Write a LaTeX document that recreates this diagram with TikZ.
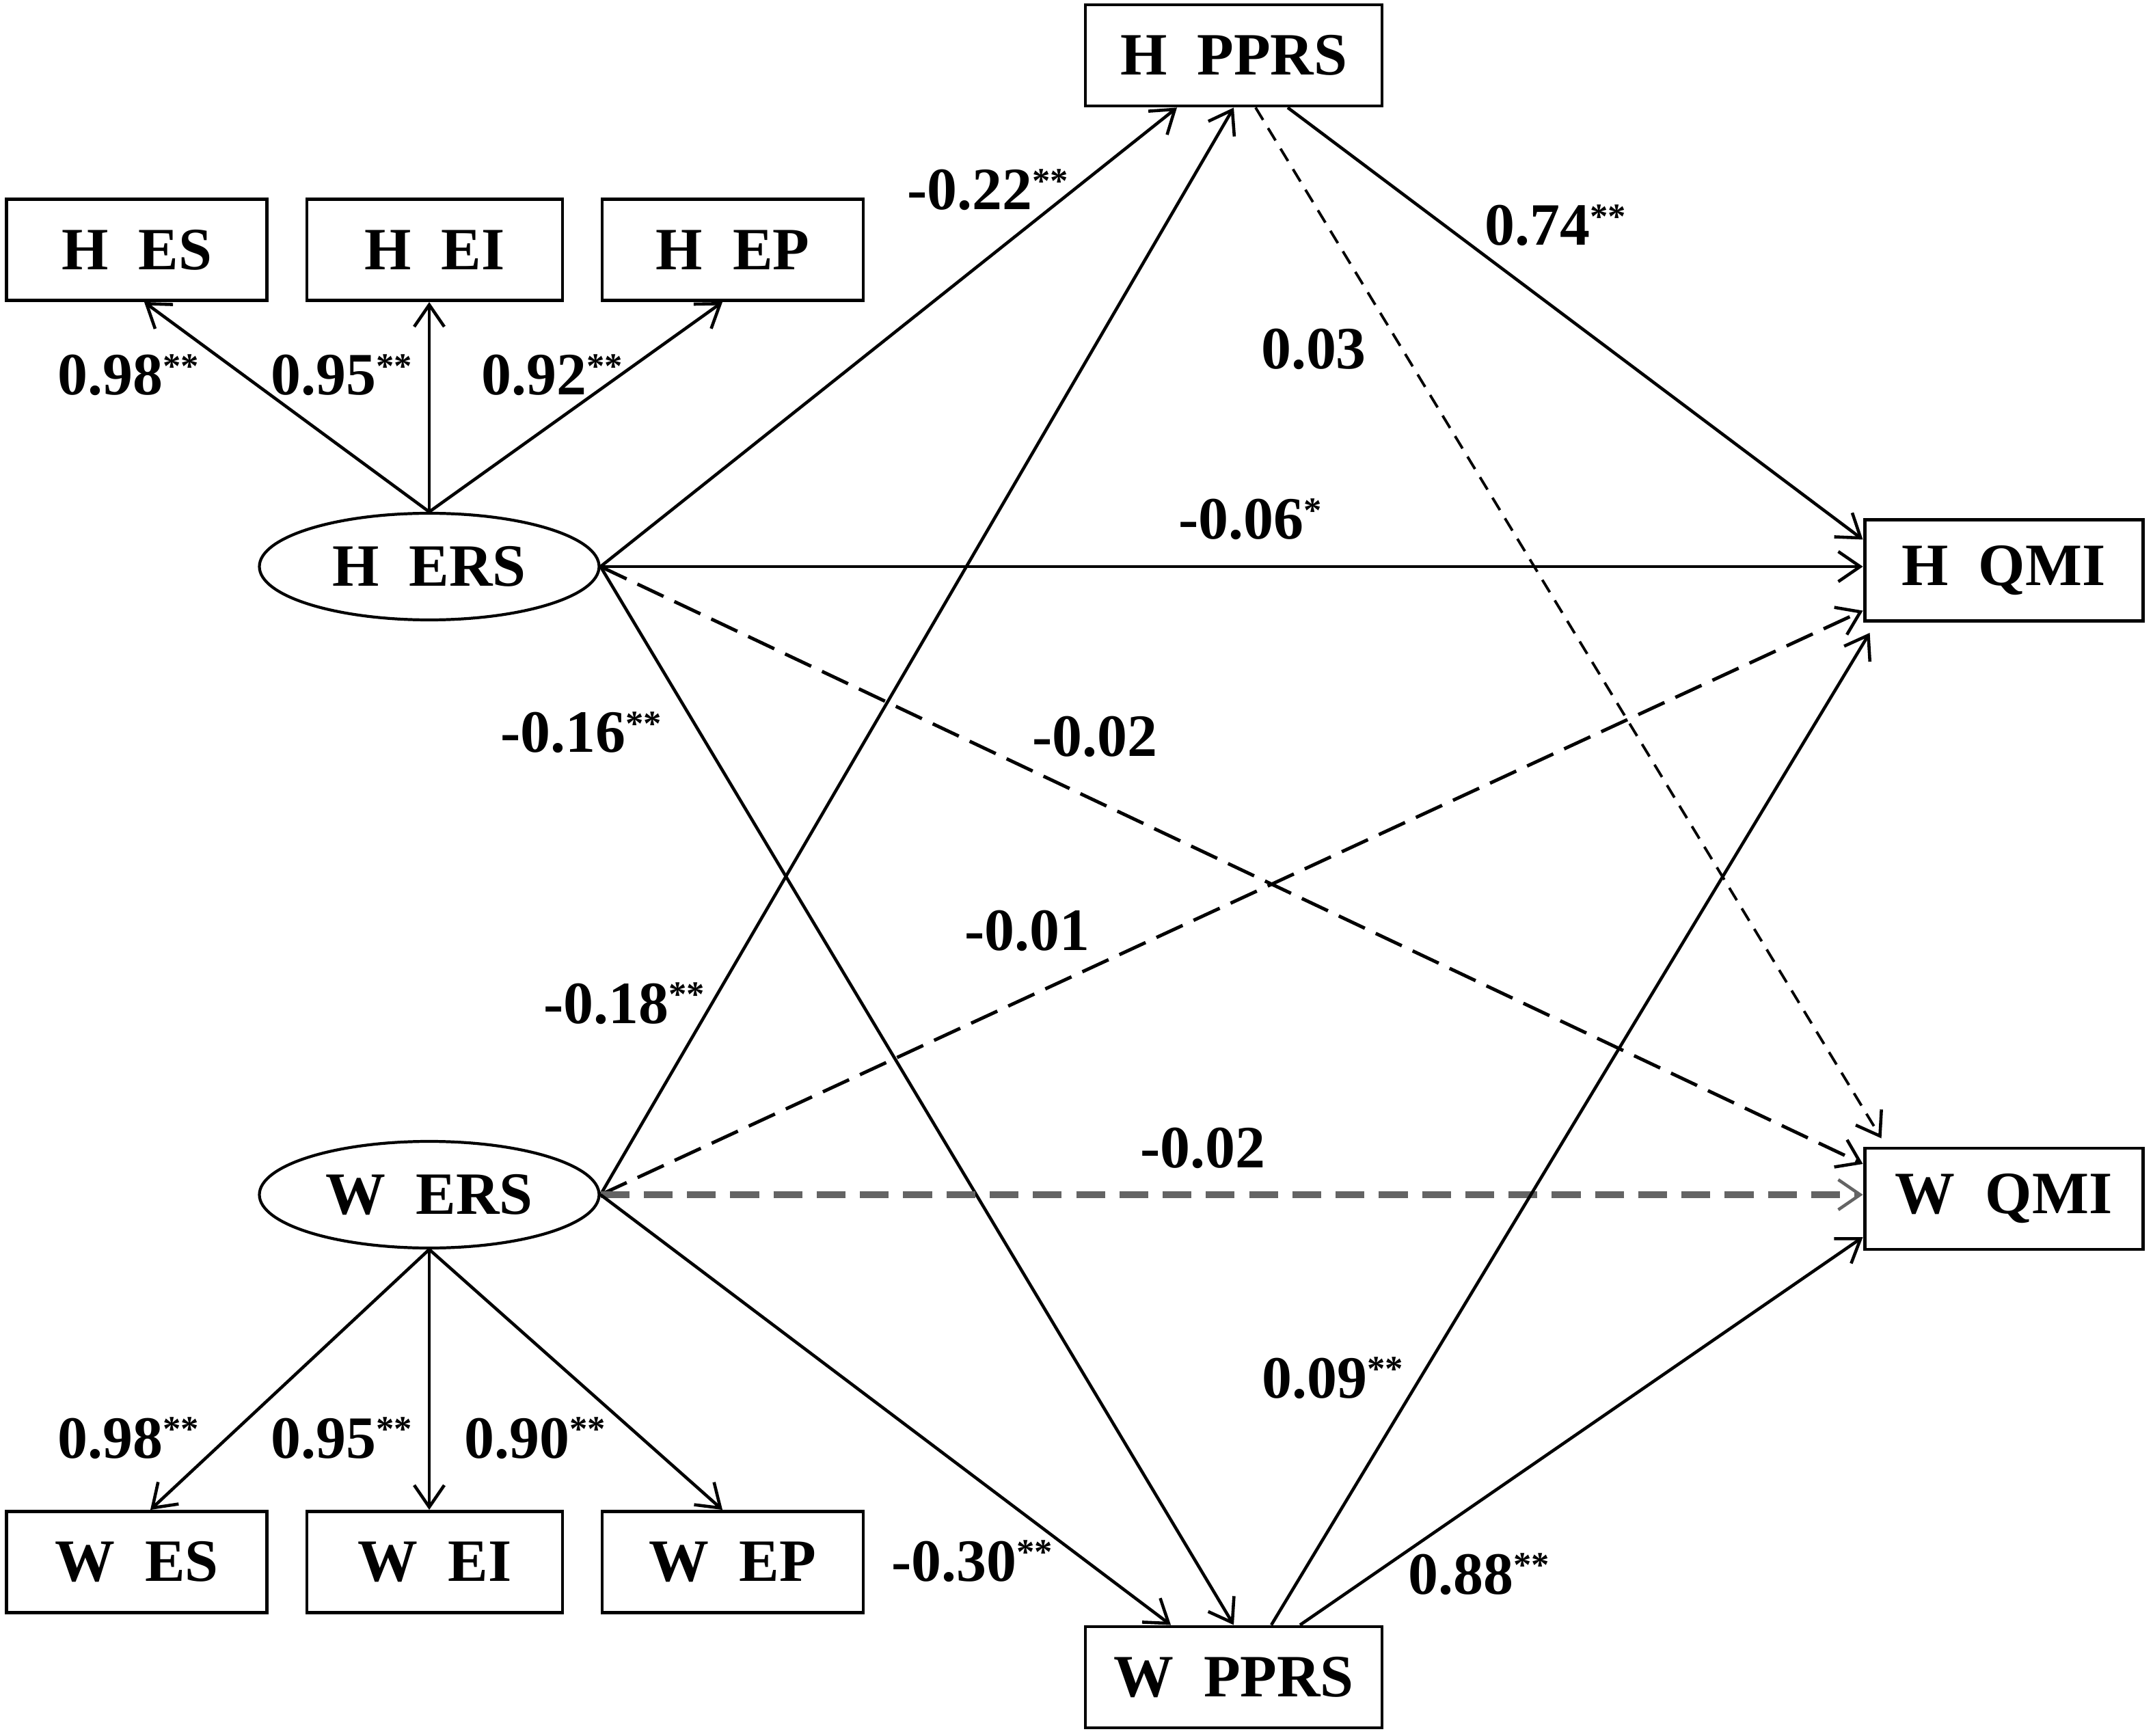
\documentclass[tikz,border=0pt]{standalone}
\usepackage{fontspec}
\setmainfont{Liberation Serif}
\usetikzlibrary{shapes.geometric, arrows.meta, positioning, calc}

\definecolor{dashgray}{RGB}{100, 100, 100}
\newcommand{\twostar}{\raisebox{0.28em}{\fontsize{15}{15}\selectfont **}}
\newcommand{\onestar}{\raisebox{0.28em}{\fontsize{15}{15}\selectfont *}}

\begin{document}
\begin{tikzpicture}[
  font=\fontsize{25}{30}\selectfont\bfseries,
  box/.style={draw, line width=1.4pt, minimum height=1.48cm, inner sep=0pt},
  latent/.style={draw, ellipse, line width=1.2pt, minimum width=4.97cm, minimum height=1.56cm, inner sep=0pt},
  link/.style={line width=1.3pt, -{Straight Barb[length=3.2mm, width=4.4mm, line width=1.3pt]}},
  longdash/.style={line width=1.4pt, dash pattern=on 12pt off 5pt},
  shortdash/.style={line width=1.1pt, dash pattern=on 6pt off 4pt},
  graydash/.style={dashgray, line width=2.6pt, dash pattern=on 12pt off 6pt},
  coef/.style={anchor=base, inner sep=0pt}
]
  \useasboundingbox (0, 0) rectangle (31.5, 25.39);

  % Indicators
  \foreach \nm/\x/\w/\txt in {hes/2.0/3.81/H~~ES, hei/6.36/3.74/H~~EI, hep/10.72/3.82/H~~EP} {
    \node[box, minimum width=\w cm] (\nm) at (\x, 21.735) {\txt};
  }
  \foreach \nm/\x/\w/\txt in {wes/2.0/3.81/W~~ES, wei/6.36/3.74/W~~EI, wep/10.72/3.82/W~~EP} {
    \node[box, minimum width=\w cm] (\nm) at (\x, 2.535) {\txt};
  }

  % Latent and observed variables
  \node[latent] (hers) at (6.28, 17.10) {H~~ERS};
  \node[latent] (wers) at (6.28, 7.91) {W~~ERS};
  \node[box, minimum width=4.34cm] (hpprs) at (18.05, 24.58) {H~~PPRS};
  \node[box, minimum width=4.34cm] (wpprs) at (18.05, 0.85) {W~~PPRS};
  \node[box, minimum width=4.07cm] (hqmi) at (29.315, 17.045) {H~~QMI};
  \node[box, minimum width=4.07cm] (wqmi) at (29.315, 7.85) {W~~QMI};

  % Loadings
  \draw[link] (hers.north) -- ([xshift=0.11cm]hes.south);
  \draw[link] (hers.north) -- (hers.north |- hei.south);
  \draw[link] (hers.north) -- ([xshift=-0.15cm]hep.south);
  \draw[link] (wers.south) -- ([xshift=0.2cm]wes.north);
  \draw[link] (wers.south) -- (wers.south |- wei.north);
  \draw[link] (wers.south) -- ([xshift=-0.15cm]wep.north);

  % Paths
  \draw[link] (hers.east) -- ([xshift=-0.83cm]hpprs.south);
  \draw[link] (wers.east) -- (hpprs.south);
  \draw[link] (hers.east) -- (hers.east -| hqmi.west);
  \draw[link] (hers.east) -- (wpprs.north);
  \draw[link, longdash] (hers.east) -- ([yshift=0.51cm]wqmi.west);
  \draw[link, longdash] (wers.east) -- ([yshift=-0.59cm]hqmi.west);
  \draw[link, graydash] (wers.east) -- (wers.east -| wqmi.west);
  \draw[link] (wers.east) -- ([xshift=-0.92cm]wpprs.north);
  \draw[link] ([xshift=0.79cm]hpprs.south) -- ([yshift=0.45cm]hqmi.west);
  \draw[link, shortdash] ([xshift=0.32cm]hpprs.south) -- ([xshift=0.27cm, yshift=0.12cm]wqmi.north west);
  \draw[link] ([xshift=0.55cm]wpprs.north) -- ([xshift=0.1cm, yshift=-0.15cm]hqmi.south west);
  \draw[link] ([xshift=0.97cm]wpprs.north) -- ([yshift=-0.56cm]wqmi.west);

  % Coefficients
  \node[coef] (ches) at (1.88, 19.61) {0.98\twostar};
  \node[coef] (chei) at (5.00, 19.61) {0.95\twostar};
  \node[coef] (chep) at (8.08, 19.61) {0.92\twostar};
  \node[coef] (cwes) at (1.88, 4.06) {0.98\twostar};
  \node[coef] (cwei) at (5.00, 4.06) {0.95\twostar};
  \node[coef] (cwep) at (7.83, 4.06) {0.90\twostar};
  \node[coef] (chh) at (14.45, 22.32) {-0.22\twostar};
  \node[coef] (chq) at (22.76, 21.80) {0.74\twostar};
  \node[coef] (chw) at (19.22, 19.99) {0.03};
  \node[coef] (cerq) at (18.29, 17.50) {-0.06\onestar};
  \node[coef] (chwp) at (8.50, 14.38) {-0.16\twostar};
  \node[coef] (chwq) at (16.02, 14.32) {-0.02};
  \node[coef] (cwhq) at (15.03, 11.49) {-0.01};
  \node[coef] (cwhp) at (9.13, 10.42) {-0.18\twostar};
  \node[coef] (cwwq) at (17.60, 8.31) {-0.02};
  \node[coef] (cwph) at (19.50, 4.94) {0.09\twostar};
  \node[coef] (cwwp) at (14.22, 2.26) {-0.30\twostar};
  \node[coef] (cwpq) at (21.64, 2.07) {0.88\twostar};
\end{tikzpicture}
\end{document}
